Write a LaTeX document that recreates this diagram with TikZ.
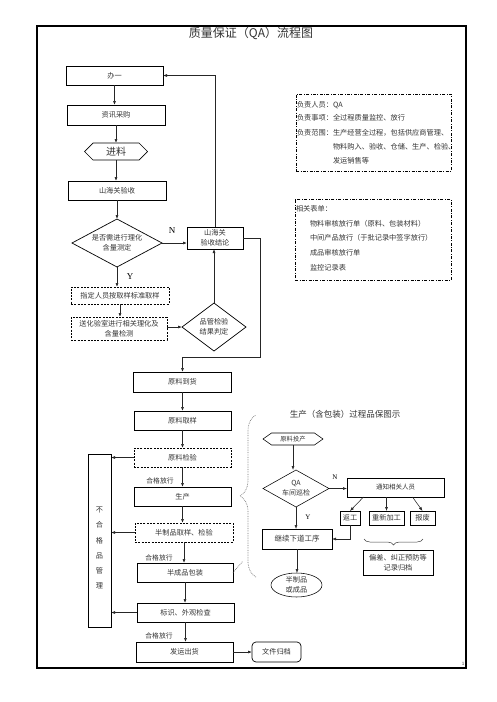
\documentclass[tikz,border=0pt]{standalone}
\usepackage{fontspec}
\newfontfamily\cjk{Noto Sans CJK SC}
\newfontfamily\lser{Liberation Serif}
\usetikzlibrary{shapes.geometric,shapes.symbols,arrows.meta,decorations.pathreplacing}
\begin{document}
\begin{tikzpicture}[x=1pt,y=-1pt,
  every node/.style={inner sep=0pt, outer sep=0pt},
  cn/.style={font=\cjk\fontsize{#1}{10}\selectfont, text=black!80},
  cn/.default=7.2,
  fbox/.style={draw=black, line width=0.7pt, align=center, cn},
  dbox/.style={fbox, dash pattern=on 2pt off 1.3pt},
  ibox/.style={draw=black, line width=0.7pt, dash pattern=on 3pt off 1.5pt on 0.8pt off 1.5pt},
  dia/.style={draw=black, diamond, line width=0.7pt, align=center, cn},
  hexa/.style={draw=black, signal, signal to=west and east, line width=0.7pt, cn},
  arr/.style={-{Latex[length=4pt,width=3pt]}, line width=0.7pt, black!85},
  lbl/.style={font=\lser\fontsize{#1}{#1}\selectfont},
  lbl/.default=9,
  itxt/.style={cn, anchor=west},
  sm/.style={line width=0.55pt},
  bracestyle/.style={black!55, densely dotted, line width=0.7pt}
]
\useasboundingbox (0,0) rectangle (496,702);
\draw[line width=1.1pt] (37,26) rectangle (466,668);
\node[cn=12] (title) at (251,33) {质量保证（QA）流程图};
\node[cn=4.5] (pg) at (463,664) {1};

% ---- upper left flow
\node[fbox, minimum width=97pt, minimum height=19pt] (b1) at (114.5,75.5) {办一};
\node[fbox, minimum width=98pt, minimum height=20pt] (b2) at (116,115) {资讯采购};
\node[hexa, cn=10, minimum width=63pt, minimum height=17pt, signal pointer angle=90] (b3) at (116,151.5) {进料};
\node[fbox, minimum width=98pt, minimum height=19pt] (b4) at (117,190.5) {山海关验收};
\node[dia, minimum width=90pt, minimum height=48pt, aspect=2] (d1) at (117,243) {是否需进行理化\\含量测定};
\node[fbox, minimum width=56pt, minimum height=22pt] (jl) at (215,238) {山海关\\验收结论};
\node[dbox, minimum width=98pt, minimum height=17pt] (s1) at (120,295.5) {指定人员按取样标准取样};
\node[dbox, minimum width=96pt, minimum height=23pt] (s2) at (119,328.5) {送化验室进行相关理化及\\含量检测};
\node[dia, minimum width=64pt, minimum height=48pt, aspect=1.4] (d2) at (214,327) {品管检验\\结果判定};
\node[lbl] (nlab) at (172,231) {N};
\node[lbl] (ylab) at (130,277) {Y};

\draw[arr] (b1.south) -- (b1.south |- b2.north);
\draw[arr] (b2.south) -- (b2.south |- b3.north);
\draw[arr] (b3.south) -- (b3.south |- b4.north);
\draw[arr] (b4.south) -- (b4.south |- d1.north);
\draw[arr] (d1.south) -- (d1.south |- s1.north);
\draw[arr] (s1.south) -- (s1.south |- s2.north);
\draw[arr] (s2.east |- d2.west) -- (d2.west);
\draw[arr] (d1.east) -- (d1.east -| jl.west);
\draw[arr] (d2.north) -- (d2.north |- jl.south);
\draw[arr] (jl.north) |- (b1.east);

% ---- info boxes
\node[ibox, minimum width=155pt, minimum height=77pt] (i1) at (373.5,132.5) {};
\node[itxt] (i1a) at (297,105) {负责人员：QA};
\node[itxt] (i1b) at (297,118) {负责事项：全过程质量监控、放行};
\node[itxt] (i1c) at (297,133) {负责范围：生产经营全过程，包括供应商管理、};
\node[itxt] (i1d) at (333,147) {物料购入、验收、仓储、生产、检验、};
\node[itxt] (i1e) at (333,161) {发运销售等};
\node[ibox, minimum width=156pt, minimum height=81pt] (i2) at (373,239.5) {};
\node[itxt] (i2a) at (296,209) {相关表单：};
\node[itxt] (i2b) at (310,224) {物料审核放行单（原料、包装材料）};
\node[itxt] (i2c) at (310,238) {中间产品放行（于批记录中签字放行）};
\node[itxt] (i2d) at (310,253) {成品审核放行单};
\node[itxt] (i2e) at (310,268) {监控记录表};

% ---- middle column
\node[fbox, minimum width=98pt, minimum height=20pt] (m1) at (182.5,382) {原料到货};
\node[fbox, minimum width=97pt, minimum height=19pt] (m2) at (182.5,420.5) {原料取样};
\node[dbox, minimum width=97pt, minimum height=19pt] (m3) at (182.5,457.5) {原料检验};
\node[fbox, minimum width=97pt, minimum height=19pt] (m4) at (182.5,496.5) {生产};
\node[dbox, minimum width=98pt, minimum height=19pt] (m5) at (184,532.5) {半制品取样、检验};
\node[fbox, minimum width=96pt, minimum height=19pt] (m6) at (185,572.5) {半成品包装};
\node[fbox, minimum width=97pt, minimum height=19pt] (m7) at (185.5,612.5) {标识、外观检查};
\node[fbox, minimum width=97pt, minimum height=20pt] (m8) at (184.5,652) {发运出货};
\node[fbox, rounded corners=4pt, minimum width=49pt, minimum height=20pt] (wj) at (276.5,652) {文件归档};
\node[fbox, minimum width=23pt, minimum height=173pt] (ng) at (99.5,540.5) {};
\node[cn, align=center, font=\cjk\fontsize{7.2}{15.2}\selectfont] (ngt) at (99.5,548) {不\\合\\格\\品\\管\\理};
\node[cn=6.8] (q1) at (160,481) {合格放行};
\node[cn=6.8] (q2) at (159,558) {合格放行};
\node[cn=6.8] (q3) at (159,636) {合格放行};

\coordinate (r1) at (260,357);
\draw[arr] (jl.east) -| (r1) -| (m1.north);
\draw[arr] (m1.south) -- (m1.south |- m2.north);
\draw[arr] (m2.south) -- (m2.south |- m3.north);
\draw[arr] (m3.south) -- (m3.south |- m4.north);
\draw[arr] (m4.south) -- (m4.south |- m5.north);
\draw[arr] (m5.south) -- (m5.south |- m6.north);
\draw[arr] (m6.south) -- (m6.south |- m7.north);
\draw[arr] (m7.south) -- (m7.south |- m8.north);
\draw[arr] (m8.east) -- (wj.west);
\draw[arr] (m3.west) -- (m3.west -| ng.east);
\draw[arr] (m5.west) -- (m5.west -| ng.east);
\draw[arr] (m7.west) -- (m7.west -| ng.east);

% ---- brace
\draw[bracestyle, decorate, decoration={brace, amplitude=16pt}] (256,577) -- (256,415);
\coordinate (bf1) at (243,561);
\draw[bracestyle] (m6.east) -- (bf1);

% ---- right process diagram
\node[cn=8.5] (rt) at (345,414) {生产（含包装）过程品保图示};
\node[hexa, sm, cn=6.3, minimum width=60pt, minimum height=12pt, signal pointer angle=70] (hx) at (293,439) {原料投产};
\node[dia, sm, cn=7, minimum width=66pt, minimum height=37pt, aspect=1.8] (qa) at (296,488.5) {QA\\车间巡检};
\node[fbox, sm, cn=6.5, minimum width=97pt, minimum height=19pt] (tz) at (395.5,487.5) {通知相关人员};
\node[fbox, sm, minimum width=20pt, minimum height=14pt] (fg) at (350,518) {返工};
\node[fbox, sm, minimum width=35pt, minimum height=14pt] (cx) at (386.5,518) {重新加工};
\node[fbox, sm, minimum width=25pt, minimum height=14pt] (bf) at (422.5,518) {报废};
\node[fbox, sm, cn=7.5, minimum width=70pt, minimum height=20pt] (jx) at (297,539) {继续下道工序};
\node[fbox, sm, minimum width=70pt, minimum height=25pt] (rec) at (398,562.5) {偏差、纠正预防等\\记录归档};
\node[draw=black, sm, ellipse, cn, align=center, minimum width=51pt, minimum height=24pt] (el) at (296.5,585) {半制品\\或成品};
\node[lbl=7] (n2) at (335,477) {N};
\node[lbl=7] (y2) at (308,517) {Y};

\draw[arr, sm] (hx.south) -- (hx.south |- qa.north);
\draw[arr, sm] (qa.east) -- (qa.east -| tz.west);
\draw[arr, sm] ([xshift=-32pt]tz.south) -- (fg.north);
\draw[arr, sm] (tz.south -| cx.north) -- (cx.north);
\draw[arr, sm] ([xshift=17pt]tz.south) -- (bf.north);
\draw[arr, sm] (qa.south) -- (qa.south |- jx.north);
\draw[arr, sm] (fg.south) |- (jx.east);
\draw[arr, sm] (jx.south) -- (jx.south |- el.north);
\draw[black!75, line width=0.5pt, decorate, decoration={brace, amplitude=6pt}] (423,539) -- (364,539);
\end{tikzpicture}
\end{document}
